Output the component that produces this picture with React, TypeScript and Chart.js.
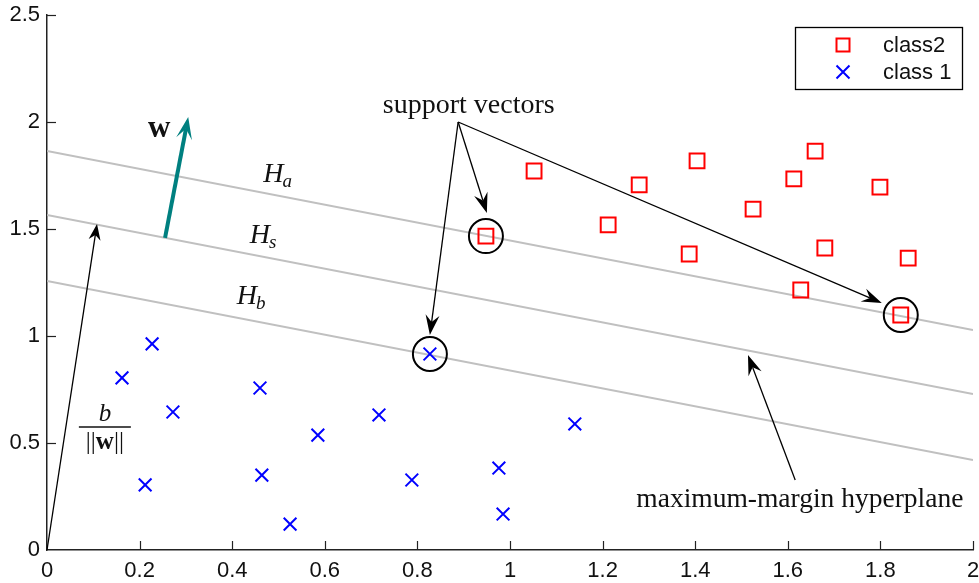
import React, { useEffect, useRef } from 'react';
import { Chart, registerables } from 'chart.js';

Chart.register(...registerables);

// class 1 samples (blue crosses)
const class1X = [0.162, 0.227, 0.272, 0.212, 0.46, 0.464, 0.585, 0.525, 0.717, 0.788, 0.827, 0.976, 0.985, 1.14];
const class1Y = [0.804, 0.963, 0.645, 0.304, 0.757, 0.35, 0.537, 0.121, 0.631, 0.327, 0.916, 0.383, 0.168, 0.589];

// class 2 samples (red squares)
const class2X = [1.052, 0.948, 1.212, 1.279, 1.404, 1.387, 1.525, 1.613, 1.659, 1.68, 1.628, 1.799, 1.86, 1.844];
const class2Y = [1.771, 1.467, 1.519, 1.706, 1.818, 1.383, 1.593, 1.734, 1.864, 1.411, 1.215, 1.696, 1.364, 1.098];

// support vectors (circled)
const supportX = [0.948, 0.827, 1.844];
const supportY = [1.467, 0.916, 1.098];

// hyperplanes H_a, H_s, H_b as segments from x = 0 to x = 2
const planeNames = ['a', 's', 'b'];
const planeX0 = [0, 0, 0];
const planeY0 = [1.864, 1.565, 1.257];
const planeX1 = [2, 2, 2];
const planeY1 = [1.028, 0.729, 0.421];
const planeLabelX = [0.467, 0.438, 0.41];
const planeLabelY = [1.72, 1.435, 1.15];

// axis ticks
const xTicks = [0, 0.2, 0.4, 0.6, 0.8, 1, 1.2, 1.4, 1.6, 1.8, 2];
const xTickLabels = ['0', '0.2', '0.4', '0.6', '0.8', '1', '1.2', '1.4', '1.6', '1.8', '2'];
const yTicks = [0, 0.5, 1, 1.5, 2, 2.5];
const yTickLabels = ['0', '0.5', '1', '1.5', '2', '2.5'];

// arrows: normal vector w, offset b/||w||, support-vector pointers, margin pointer
const normalArrow = [0.255, 1.458, 0.305, 2.023];
const offsetArrow = [0, 0, 0.108, 1.523];
const supportOrigin = [0.888, 2.0];
const supportTipX = [0.95, 0.827, 1.803];
const supportTipY = [1.575, 1.005, 1.154];
const marginArrow = [1.616, 0.327, 1.514, 0.911];

// text anchors
const supportLabel = [0.911, 2.042];
const marginLabel = [1.626, 0.201];
const normalLabel = [0.218, 1.93];
const fractionPos = [0.125, 0.575];

const SERIF = '"Liberation Serif", "DejaVu Serif", serif';
const SANS = '"Liberation Sans", Arial, sans-serif';

function arrowHead(ctx: CanvasRenderingContext2D, x0: number, y0: number, x1: number, y1: number,
  len: number, half: number, notch: number) {
  const a = Math.atan2(y1 - y0, x1 - x0);
  const c = Math.cos(a), s = Math.sin(a);
  ctx.beginPath();
  ctx.moveTo(x1, y1);
  ctx.lineTo(x1 - len * c + half * s, y1 - len * s - half * c);
  ctx.lineTo(x1 - (len - notch) * c, y1 - (len - notch) * s);
  ctx.lineTo(x1 - len * c - half * s, y1 - len * s + half * c);
  ctx.closePath();
  ctx.fill();
}

function arrow(ctx: CanvasRenderingContext2D, x0: number, y0: number, x1: number, y1: number,
  width: number, color: string, len: number, half: number, notch: number) {
  const a = Math.atan2(y1 - y0, x1 - x0);
  const ex = x1 - (len - notch) * Math.cos(a);
  const ey = y1 - (len - notch) * Math.sin(a);
  ctx.strokeStyle = color;
  ctx.fillStyle = color;
  ctx.lineWidth = width;
  ctx.beginPath();
  ctx.moveTo(x0, y0);
  ctx.lineTo(ex, ey);
  ctx.stroke();
  arrowHead(ctx, x0, y0, x1, y1, len, half, notch);
}

const decorations = {
  id: 'decorations',
  afterDatasetsDraw(chart: any) {
    const { ctx, chartArea, scales } = chart;
    const px = (v: number) => scales.x.getPixelForValue(v);
    const py = (v: number) => scales.y.getPixelForValue(v);
    ctx.save();

    // inward tick marks
    ctx.strokeStyle = '#222';
    ctx.lineWidth = 1.2;
    xTicks.forEach((v) => {
      if (v === 0) return;
      const X = Math.round(px(v)) + 0.5;
      ctx.beginPath();
      ctx.moveTo(X, chartArea.bottom);
      ctx.lineTo(X, chartArea.bottom - 9);
      ctx.stroke();
    });
    yTicks.forEach((v) => {
      if (v === 0) return;
      const Y = Math.round(py(v)) + 0.5;
      ctx.beginPath();
      ctx.moveTo(chartArea.left, Y);
      ctx.lineTo(chartArea.left + 9, Y);
      ctx.stroke();
    });

    // normal vector w
    arrow(ctx, px(normalArrow[0]), py(normalArrow[1]), px(normalArrow[2]), py(normalArrow[3]),
      4, '#008080', 22, 8, 10);
    // offset b/||w||
    arrow(ctx, px(offsetArrow[0]), py(offsetArrow[1]), px(offsetArrow[2]), py(offsetArrow[3]),
      1.3, '#000', 16, 6, 5);
    // support-vector pointers
    const ox = px(supportOrigin[0]), oy = py(supportOrigin[1]);
    supportTipX.forEach((tx, i) => {
      arrow(ctx, ox, oy, px(tx), py(supportTipY[i]), 1.3, '#000', 20, 7, 7);
    });
    // maximum-margin pointer
    arrow(ctx, px(marginArrow[0]), py(marginArrow[1]), px(marginArrow[2]), py(marginArrow[3]),
      1.3, '#000', 20, 7, 7);

    // labels
    ctx.fillStyle = '#111';
    ctx.textBaseline = 'alphabetic';
    ctx.textAlign = 'center';
    ctx.font = `28px ${SERIF}`;
    ctx.fillText('support vectors', px(supportLabel[0]), py(supportLabel[1]));
    ctx.font = `27.5px ${SERIF}`;
    ctx.fillText('maximum-margin hyperplane', px(marginLabel[0]), py(marginLabel[1]));

    ctx.textAlign = 'left';
    planeNames.forEach((n, i) => {
      const X = px(planeLabelX[i]);
      const Y = py(planeLabelY[i]);
      ctx.font = `italic 28px ${SERIF}`;
      ctx.fillText('H', X, Y);
      const w = ctx.measureText('H').width;
      ctx.font = `italic 19px ${SERIF}`;
      ctx.fillText(n, X + w - 1, Y + 5);
    });

    ctx.font = `bold 31px ${SERIF}`;
    ctx.fillText('w', px(normalLabel[0]), py(normalLabel[1]));

    // fraction b / ||w||
    const fx = px(fractionPos[0]), fy = py(fractionPos[1]);
    ctx.textAlign = 'center';
    ctx.font = `italic 25px ${SERIF}`;
    ctx.fillText('b', fx, fy - 6);
    ctx.lineWidth = 1.6;
    ctx.strokeStyle = '#111';
    ctx.beginPath();
    ctx.moveTo(fx - 26, fy);
    ctx.lineTo(fx + 26, fy);
    ctx.stroke();
    ctx.font = `25px ${SERIF}`;
    const bars = '||';
    const wb = ctx.measureText(bars).width;
    ctx.font = `bold 25px ${SERIF}`;
    const ww = ctx.measureText('w').width;
    const total = wb * 2 + ww;
    let cx = fx - total / 2;
    ctx.textAlign = 'left';
    ctx.font = `25px ${SERIF}`;
    ctx.fillText(bars, cx, fy + 22);
    cx += wb;
    ctx.font = `bold 25px ${SERIF}`;
    ctx.fillText('w', cx, fy + 22);
    cx += ww;
    ctx.font = `25px ${SERIF}`;
    ctx.fillText(bars, cx, fy + 22);

    ctx.restore();
  },
  afterDraw(chart: any) {
    // legend box in the upper-right corner
    const { ctx, chartArea } = chart;
    const ds = chart.data.datasets;
    const bx = chartArea.right - 178, by = chartArea.top + 12, bw = 167, bh = 62;
    ctx.save();
    ctx.fillStyle = '#fff';
    ctx.fillRect(bx, by, bw, bh);
    ctx.strokeStyle = '#000';
    ctx.lineWidth = 1.3;
    ctx.strokeRect(bx + 0.5, by + 0.5, bw, bh);
    [0, 1].forEach((k) => {
      const d = ds[k];
      const my = by + 18 + k * 27;
      const mx = bx + 48;
      ctx.strokeStyle = d.borderColor;
      ctx.lineWidth = 2;
      ctx.beginPath();
      if (d.pointStyle === 'rect') {
        ctx.rect(mx - 6.5, my - 6.5, 13, 13);
      } else {
        ctx.moveTo(mx - 6.5, my - 6.5); ctx.lineTo(mx + 6.5, my + 6.5);
        ctx.moveTo(mx + 6.5, my - 6.5); ctx.lineTo(mx - 6.5, my + 6.5);
      }
      ctx.stroke();
      ctx.fillStyle = '#111';
      ctx.font = `22px ${SANS}`;
      ctx.textAlign = 'left';
      ctx.textBaseline = 'middle';
      ctx.fillText(d.label, bx + 88, my + 1);
    });
    ctx.restore();
  },
};

export default function App() {
  const ref = useRef<HTMLCanvasElement | null>(null);

  useEffect(() => {
    if (!ref.current) return;
    const planeSets = planeNames.map((n, i) => ({
      label: 'H_' + n,
      data: [{ x: planeX0[i], y: planeY0[i] }, { x: planeX1[i], y: planeY1[i] }],
      showLine: true,
      borderColor: '#c0c0c0',
      borderWidth: 2,
      pointRadius: 0,
      order: 5,
    }));
    const chart = new Chart(ref.current, {
      type: 'scatter',
      data: {
        datasets: [
          {
            label: 'class2',
            data: class2X.map((x, i) => ({ x, y: class2Y[i] })),
            pointStyle: 'rect',
            pointRadius: 10.5,
            borderColor: '#ff0000',
            backgroundColor: 'rgba(0,0,0,0)',
            borderWidth: 2,
            order: 1,
          },
          {
            label: 'class 1',
            data: class1X.map((x, i) => ({ x, y: class1Y[i] })),
            pointStyle: 'crossRot',
            pointRadius: 9,
            borderColor: '#0000ff',
            backgroundColor: '#0000ff',
            borderWidth: 2,
            order: 1,
          },
          {
            label: 'support',
            data: supportX.map((x, i) => ({ x, y: supportY[i] })),
            pointStyle: 'circle',
            pointRadius: 17,
            borderColor: '#000',
            backgroundColor: 'rgba(0,0,0,0)',
            borderWidth: 2,
            order: 0,
          },
          ...planeSets,
        ] as any,
      },
      options: {
        animation: false,
        responsive: false,
        events: [],
        layout: { autoPadding: false, padding: { top: 15, right: 6, left: 0, bottom: 0 } },
        plugins: { legend: { display: false }, tooltip: { enabled: false } },
        scales: {
          x: {
            type: 'linear',
            min: 0,
            max: 2,
            afterBuildTicks: (s: any) => { s.ticks = xTicks.map((v) => ({ value: v })); },
            afterFit: (s: any) => { s.height = 33; s.paddingLeft = 0; s.paddingRight = 0; },
            grid: { display: false, drawTicks: false },
            border: { display: true, color: '#222', width: 1.5 },
            ticks: {
              padding: 8,
              color: '#111',
              font: { family: SANS, size: 22 },
              maxRotation: 0,
              autoSkip: false,
              callback: (_v: any, i: number) => xTickLabels[i],
            },
          },
          y: {
            type: 'linear',
            min: 0,
            max: 2.5,
            afterBuildTicks: (s: any) => { s.ticks = yTicks.map((v) => ({ value: v })); },
            afterFit: (s: any) => { s.width = 47; s.paddingTop = 0; s.paddingBottom = 0; },
            grid: { display: false, drawTicks: false },
            border: { display: true, color: '#222', width: 1.5 },
            ticks: {
              padding: 7,
              color: '#111',
              font: { family: SANS, size: 22 },
              autoSkip: false,
              callback: (_v: any, i: number) => yTickLabels[i],
            },
          },
        },
      } as any,
      plugins: [decorations],
    });
    return () => chart.destroy();
  }, []);

  return (
    <div style={{ position: 'absolute', left: 0, top: 0, width: 979, height: 583, background: '#fff' }}>
      <canvas ref={ref} width={979} height={583} />
    </div>
  );
}
